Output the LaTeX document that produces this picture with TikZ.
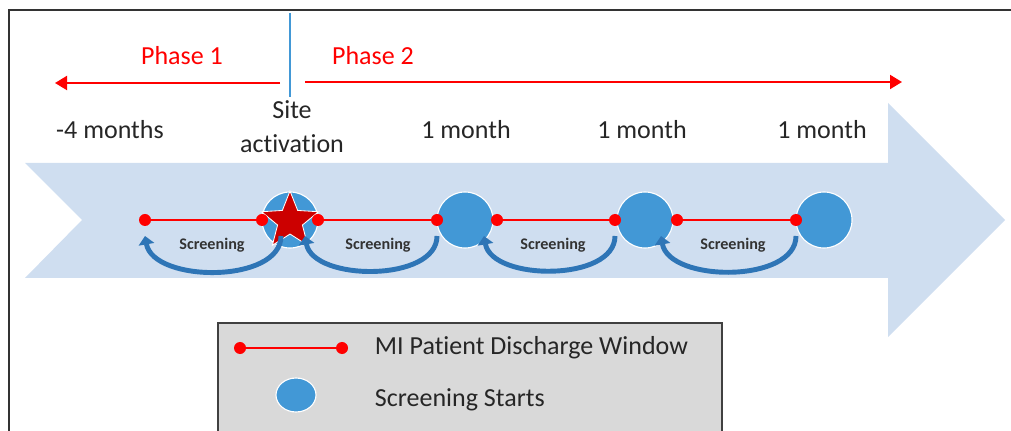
\documentclass[tikz,border=0pt]{standalone}
\usepackage{fontspec}
\setmainfont{Carlito}[Ligatures=NoCommon]
\usetikzlibrary{arrows.meta,shapes.geometric,positioning}

\definecolor{bandblue}{RGB}{207,222,240}
\definecolor{startblue}{RGB}{66,152,214}
\definecolor{loopblue}{RGB}{46,117,182}
\definecolor{starred}{RGB}{204,0,0}
\definecolor{legendgray}{RGB}{217,217,217}

\tikzset{
  lbl/.style={font=\fontsize{18.5}{24}\selectfont, text=black!85, align=center},
  phaselbl/.style={lbl, text=red},
  startdot/.style={circle, fill=startblue, draw=white, line width=0.8pt,
    minimum size=1.4cm, inner sep=0pt},
  enddot/.style={circle, fill=red, minimum size=0.3cm, inner sep=0pt},
  window/.style={red, line width=1.2pt},
  phasearrow/.style={red, line width=1.4pt, -{Triangle[length=0.3cm,width=0.35cm]}},
  screenloop/.style={loopblue, line width=3.5pt, -{Triangle[length=6pt,width=11pt]}},
  scrlbl/.style={font=\bfseries\fontsize{11.5}{13}\selectfont, text=black!80}
}

\begin{document}
\begin{tikzpicture}[x=0.025cm, y=-0.025cm]
  \useasboundingbox (0,0) rectangle (1011,431);

  % frame
  \draw[black!80, line width=1pt] (9,445) -- (9,10) -- (1020,10);

  % big timeline arrow
  \fill[bandblue] (25,163) -- (888,163) -- (888,103) -- (1005,220)
    -- (888,337) -- (888,278) -- (25,278) -- (82,220) -- cycle;

  % phases and site activation marker
  \coordinate (top) at (290,13);
  \coordinate (bot) at (290,97);
  \draw[startblue, line width=1.2pt] (top) -- (bot);
  \coordinate (p1a) at (280,83);
  \coordinate (p1b) at (55,83);
  \coordinate (p2a) at (305,82);
  \coordinate (p2b) at (902,82);
  \draw[phasearrow] (p1a) -- (p1b);
  \draw[phasearrow] (p2a) -- (p2b);
  \node[phaselbl] (ph1) at (182,56) {Phase 1};
  \node[phaselbl] (ph2) at (373,56) {Phase 2};

  % time labels
  \node[lbl] (m0) at (110,130) {-4 months};
  \node[lbl] (site) at (292,127) {Site\\activation};
  \node[lbl] (m1) at (466,130) {1 month};
  \node[lbl] (m2) at (642,130) {1 month};
  \node[lbl] (m3) at (822,130) {1 month};

  % screening starts
  \node[startdot] (c1) at (290,220) {};
  \node[startdot] (c2) at (465,220) {};
  \node[startdot] (c3) at (645,220) {};
  \node[startdot] (c4) at (824,220) {};
  \node[star, star points=5, star point ratio=2.3, fill=starred, draw=white,
    line width=0.6pt, minimum size=1.5cm, inner sep=0pt] (go) at (290,221) {};

  % discharge windows
  \foreach \i/\x in {1/145,2/262,3/318,4/437,5/497,6/615,7/677,8/796}
    \node[enddot] (d\i) at (\x,220) {};
  \draw[window] (d1) -- (d2);
  \draw[window] (d3) -- (d4);
  \draw[window] (d5) -- (d6);
  \draw[window] (d7) -- (d8);

  % screening loops
  \foreach \a/\b/\t [count=\i] in {281/145/212, 437/305/378, 615/484/553, 796/661/733} {
    \coordinate (la\i) at (\a,236);
    \coordinate (lb\i) at (\b,236);
    \draw[screenloop] (la\i) to[out=-90, in=-80, looseness=0.9] (lb\i);
    \node[scrlbl] (scr\i) at (\t,245) {Screening};
  }

  % legend
  \draw[fill=legendgray, draw=black!75, line width=0.8pt] (218,323) rectangle (722,445);
  \node[enddot] (k1) at (240,348) {};
  \node[enddot] (k2) at (342,348) {};
  \draw[window] (k1) -- (k2);
  \node[lbl, anchor=west] (kt1) at (370,348) {MI Patient Discharge Window};
  \node[ellipse, fill=startblue, draw=white, line width=0.8pt, minimum width=1cm,
    minimum height=0.85cm, inner sep=0pt] (k3) at (296,395) {};
  \node[lbl, anchor=west] (kt2) at (370,400) {Screening Starts};
\end{tikzpicture}
\end{document}
